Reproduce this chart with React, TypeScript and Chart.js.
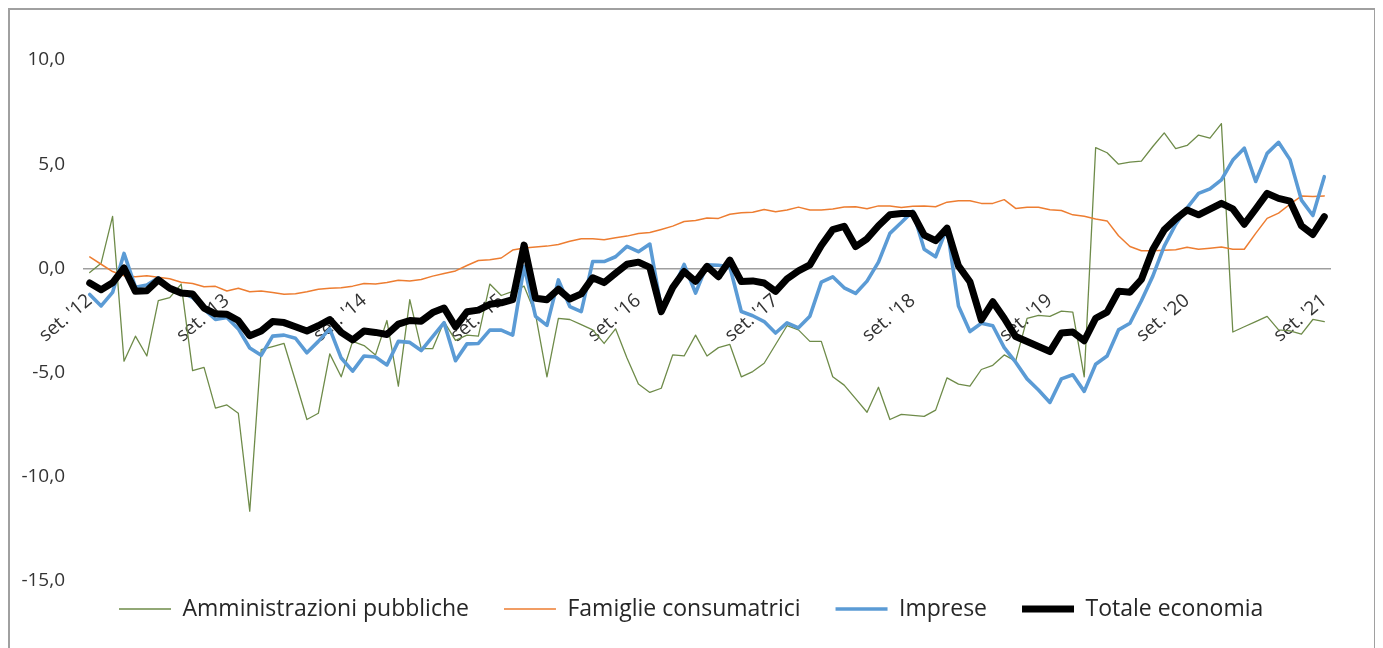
import React, { useEffect, useRef } from 'react';
import { Chart, registerables } from 'chart.js';

Chart.register(...registerables);

// ---- Data (monthly, set. 2012 – set. 2021) ----
const monthNames = ['set', 'ott', 'nov', 'dic', 'gen', 'feb', 'mar', 'apr', 'mag', 'giu', 'lug', 'ago'];
const firstYear = 12;
const nMonths = 109;

const ammPubbliche = [
  -0.2, 0.25, 2.5, -4.45, -3.25, -4.2, -1.55, -1.4, -0.75, -4.9, -4.75, -6.7,
  -6.55, -6.95, -11.65, -3.9, -3.75, -3.6, -5.4, -7.25, -6.95, -4.1, -5.2, -3.5,
  -3.7, -4.15, -2.5, -5.65, -1.5, -3.85, -3.85, -2.55, -3.45, -3.2, -3.25, -0.75,
  -1.3, -1.1, -0.85, -2.2, -5.2, -2.4, -2.45, -2.7, -2.95, -3.6, -2.9, -4.3,
  -5.55, -5.95, -5.75, -4.15, -4.2, -3.2, -4.2, -3.8, -3.65, -5.2, -4.95, -4.55,
  -3.65, -2.75, -2.95, -3.5, -3.5, -5.2, -5.6, -6.25, -6.9, -5.7, -7.25, -7.0,
  -7.05, -7.1, -6.8, -5.25, -5.55, -5.65, -4.85, -4.65, -4.15, -4.45, -2.4, -2.25,
  -2.3, -2.05, -2.1, -5.2, 5.8, 5.55, 5.0, 5.1, 5.15, 5.85, 6.5, 5.75,
  5.9, 6.4, 6.25, 6.95, -3.05, -2.8, -2.55, -2.3, -2.95, -3.0, -3.15, -2.45,
  -2.55,
];

const famiglieConsumatrici = [
  0.55, 0.2, -0.15, -0.35, -0.4, -0.35, -0.42, -0.5, -0.66, -0.72, -0.88, -0.86,
  -1.08, -0.95, -1.12, -1.08, -1.15, -1.24, -1.22, -1.12, -1.0, -0.95, -0.93, -0.85,
  -0.72, -0.75, -0.68, -0.57, -0.6, -0.53, -0.37, -0.24, -0.12, 0.14, 0.38, 0.42,
  0.5, 0.88, 0.98, 1.03, 1.07, 1.15, 1.3, 1.42, 1.42, 1.38, 1.47, 1.55,
  1.68, 1.72, 1.87, 2.03, 2.25, 2.3, 2.42, 2.4, 2.6, 2.67, 2.7, 2.83,
  2.72, 2.8, 2.94, 2.8, 2.8, 2.85, 2.95, 2.96, 2.86, 3.0, 3.0, 2.92,
  2.98, 3.0, 2.96, 3.18, 3.25, 3.25, 3.12, 3.12, 3.3, 2.88, 2.93, 2.93,
  2.82, 2.78, 2.57, 2.5, 2.37, 2.28, 1.57, 1.05, 0.85, 0.85, 0.87, 0.9,
  1.02, 0.92, 0.97, 1.03, 0.92, 0.92, 1.68, 2.4, 2.65, 3.08, 3.47, 3.45,
  3.48,
];

const imprese = [
  -1.25, -1.8, -1.15, 0.72, -0.9, -0.8, -0.45, -0.95, -1.1, -1.4, -1.95, -2.45,
  -2.35, -2.9, -3.82, -4.17, -3.25, -3.2, -3.35, -4.05, -3.5, -2.9, -4.3, -4.93,
  -4.2, -4.25, -4.63, -3.5, -3.55, -3.94, -3.27, -2.6, -4.43, -3.62, -3.6, -2.96,
  -2.96, -3.2, 0.1, -2.3, -2.73, -0.55, -1.83, -2.07, 0.33, 0.33, 0.56, 1.06,
  0.8, 1.17, -1.9, -1.03, 0.19, -1.18, 0.17, 0.15, 0.08, -2.07, -2.27, -2.55,
  -3.1, -2.61, -2.85, -2.29, -0.66, -0.4, -0.93, -1.2, -0.61, 0.3, 1.68, 2.2,
  2.75, 0.92, 0.56, 1.95, -1.8, -3.03, -2.63, -2.75, -3.8, -4.5, -5.3, -5.83,
  -6.43, -5.3, -5.1, -5.9, -4.6, -4.2, -2.95, -2.63, -1.55, -0.37, 1.07, 2.11,
  2.91, 3.6, 3.82, 4.25, 5.2, 5.77, 4.17, 5.52, 6.05, 5.22, 3.28, 2.54,
  4.4,
];

const totaleEconomia = [
  -0.7, -1.02, -0.69, 0.02, -1.1, -1.07, -0.55, -0.95, -1.18, -1.23, -1.9, -2.18,
  -2.2, -2.5, -3.23, -3.0, -2.55, -2.6, -2.8, -3.0, -2.75, -2.45, -3.07, -3.43,
  -3.0, -3.07, -3.17, -2.67, -2.5, -2.53, -2.12, -1.9, -2.8, -2.08, -2.0, -1.72,
  -1.65, -1.5, 1.12, -1.43, -1.5, -1.0, -1.47, -1.22, -0.45, -0.68, -0.23, 0.2,
  0.3, 0.05, -2.07, -0.92, -0.15, -0.62, 0.1, -0.4, 0.4, -0.63, -0.6, -0.7,
  -1.1, -0.5, -0.12, 0.17, 1.1, 1.86, 2.02, 1.05, 1.42, 2.05, 2.58, 2.63,
  2.63, 1.6, 1.33, 1.93, 0.12, -0.64, -2.47, -1.6, -2.39, -3.27, -3.51, -3.75,
  -3.99, -3.1, -3.05, -3.47, -2.39, -2.1, -1.09, -1.14, -0.53, 0.91, 1.85, 2.37,
  2.8, 2.57, 2.84, 3.12, 2.86, 2.12, 2.85, 3.6, 3.36, 3.23, 2.05, 1.63,
  2.48,
];

const yTickValues = [-15, -10, -5, 0, 5, 10];
const labelEvery = 12;

const categories: string[] = Array.from({ length: nMonths }, (_, i) => {
  const m = monthNames[i % 12];
  const yy = firstYear + Math.floor((i + 8) / 12);
  return `${m}. '${yy}`;
});

const FONT = "'Open Sans', sans-serif";

export default function App() {
  const canvasRef = useRef<HTMLCanvasElement | null>(null);

  useEffect(() => {
    if (!canvasRef.current) return;
    const common = {
      pointRadius: 0,
      pointHoverRadius: 0,
      tension: 0,
      fill: false,
      borderJoinStyle: 'round' as const,
      borderCapStyle: 'round' as const,
    };
    const chart = new Chart(canvasRef.current, {
      type: 'line',
      data: {
        labels: categories,
        datasets: [
          { ...common, label: 'Amministrazioni pubbliche', data: ammPubbliche, borderColor: '#6e8b49', backgroundColor: '#6e8b49', borderWidth: 1.3, order: 3 },
          { ...common, label: 'Famiglie consumatrici', data: famiglieConsumatrici, borderColor: '#ed7d31', backgroundColor: '#ed7d31', borderWidth: 1.5, order: 2 },
          { ...common, label: 'Imprese', data: imprese, borderColor: '#5b9bd5', backgroundColor: '#5b9bd5', borderWidth: 3.6, order: 1 },
          { ...common, label: 'Totale economia', data: totaleEconomia, borderColor: '#000000', backgroundColor: '#000000', borderWidth: 7, order: 0 },
        ],
      },
      options: {
        responsive: false,
        animation: false,
        layout: { padding: { left: 0, right: 44, top: 50, bottom: 17.5 } },
        plugins: {
          tooltip: { enabled: false },
          title: { display: false },
          legend: {
            position: 'bottom',
            fullSize: false,
            align: 'start',
            labels: {
              usePointStyle: true,
              pointStyle: 'line',
              pointStyleWidth: 52,
              padding: 35,
              color: '#262626',
              font: { family: FONT, size: 23 },
              sort: (a: any, b: any) => a.datasetIndex - b.datasetIndex,
            },
          },
        },
        scales: {
          x: {
            type: 'category',
            offset: true,
            position: { y: 0 } as any,
            grid: { display: false, drawTicks: false },
            border: { display: true, color: '#9f9f9f', width: 1.5 },
            ticks: {
              autoSkip: false,
              minRotation: 40,
              maxRotation: 40,
              padding: 21,
              color: '#333333',
              font: { family: FONT, size: 19 },
              callback: (_v: any, index: number) => (index % labelEvery === 0 ? categories[index] : ''),
            },
            afterFit: (scale: any) => {
              scale.height = 0;
            },
          },
          y: {
            min: -14.11,
            max: 10,
            grid: { display: false, drawTicks: false },
            border: { display: false },
            afterBuildTicks: (scale: any) => {
              scale.ticks = yTickValues.map((v) => ({ value: v }));
            },
            afterFit: (scale: any) => {
              scale.width = 74;
            },
            ticks: {
              padding: 19,
              color: '#333333',
              font: { family: FONT, size: 19 },
              callback: (v: any) => Number(v).toFixed(1).replace('.', ','),
            },
          },
        },
      },
    });
    return () => chart.destroy();
  }, []);

  return (
    <div
      style={{
        width: 1368,
        height: 640,
        boxSizing: 'border-box',
        border: '2px solid #a0a0a0',
        borderBottom: 'none',
        background: '#ffffff',
        overflow: 'hidden',
      }}
    >
      <canvas ref={canvasRef} width={1364} height={638} style={{ display: 'block', width: 1364, height: 638 }} />
    </div>
  );
}
